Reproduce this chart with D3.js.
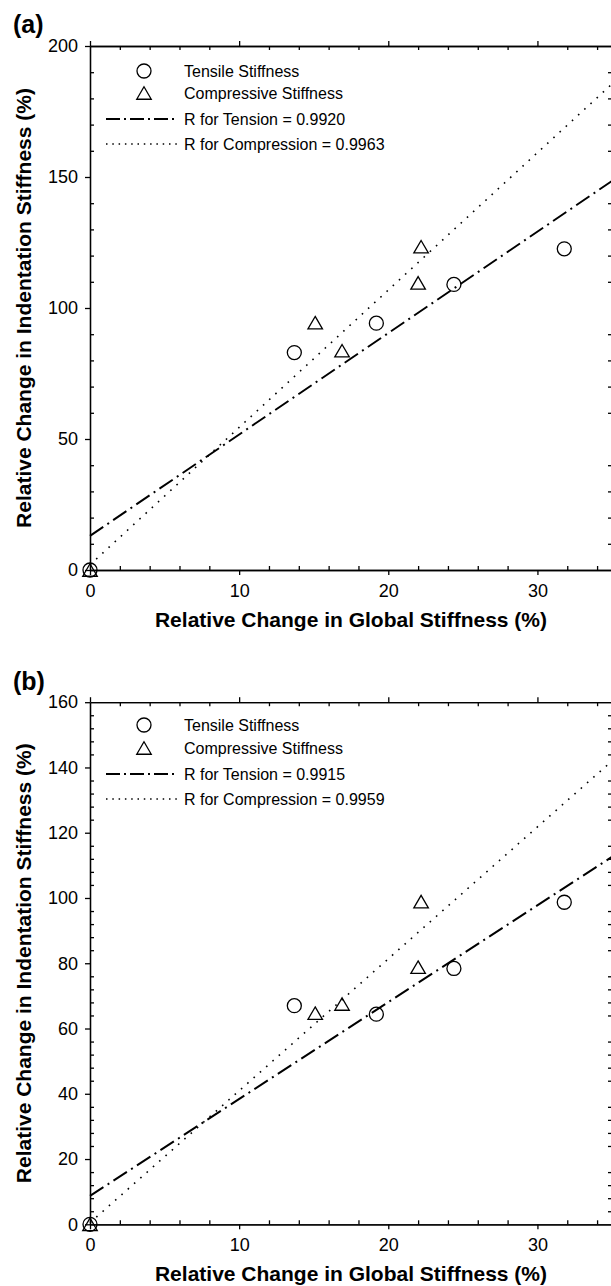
<!DOCTYPE html>
<html>
<head>
<meta charset="utf-8">
<script src="https://cdn.jsdelivr.net/npm/d3@7"></script>
<style>
  body { margin: 0; background: #fff; }
  svg { display: block; font-family: "Liberation Sans", Arial, sans-serif; }
</style>
</head>
<body>
<svg id="chart" width="611" height="1286"></svg>
<script>
// values
var xTicks = [0, 10, 20, 30];
var yTicksA = [0, 50, 100, 150, 200];
var yTicksB = [0, 20, 40, 60, 80, 100, 120, 140, 160];

var tensileX = [0, 13.7, 19.2, 24.4, 31.8];
var compressiveX = [0, 15.1, 16.9, 22.0, 22.2];

var tensileYA = [0, 83.0, 94.2, 109.0, 122.6];
var compressiveYA = [0, 94.4, 83.7, 109.6, 123.4];
var tensileYB = [0, 67.0, 64.4, 78.4, 98.7];
var compressiveYB = [0, 64.7, 67.5, 78.8, 98.9];

// fitted lines, end points [x, y]
var tensionFitA = [[0, 13.0], [35, 148.5]];
var compressionFitA = [[0, 2.0], [35, 185.5]];
var tensionFitB = [[0, 8.7], [35, 112.6]];
var compressionFitB = [[0, 0.5], [35, 142.0]];

var legendA = ['Tensile Stiffness', 'Compressive Stiffness', 'R for Tension = 0.9920', 'R for Compression = 0.9963'];
var legendB = ['Tensile Stiffness', 'Compressive Stiffness', 'R for Tension = 0.9915', 'R for Compression = 0.9959'];

var xTitle = 'Relative Change in Global Stiffness (%)';
var yTitle = 'Relative Change in Indentation Stiffness (%)';

var svg = d3.select('#chart');

// triangle with its box centred on the point, size = width
var triangleUp = {
	draw: function(ctx, size) {
		var w = size / 2, h = size * 0.43;
		ctx.moveTo(0, -h);
		ctx.lineTo(w, h);
		ctx.lineTo(-w, h);
		ctx.closePath();
	}
};

function drawPanel(p) {
	var x = d3.scaleLinear().domain([0, 35]).range([90, 612]);
	var y = d3.scaleLinear().domain([0, p.yMax]).range([p.bottom, p.top]);
	var g = svg.append('g');

	var xMinor = d3.range(0, 35.01, 2).filter(function(d) { return d % 10 !== 0; });
	var yMinor = d3.range(0, p.yMax + 0.01, p.yMinorStep).filter(function(d) { return d % p.yMajorStep !== 0; });

	function styleAxis(sel) {
		sel.selectAll('path, line').attr('stroke', '#000').attr('stroke-width', 1.3);
		sel.selectAll('text').attr('font-size', 18).attr('fill', '#000').attr('font-family', '"Liberation Sans", Arial, sans-serif');
	}

	// bottom
	g.append('g').attr('transform', 'translate(0,' + p.bottom + ')')
		.call(d3.axisBottom(x).tickValues(xTicks).tickSize(5).tickSizeOuter(0).tickPadding(9))
		.call(styleAxis);
	g.append('g').attr('transform', 'translate(0,' + p.bottom + ')')
		.call(d3.axisBottom(x).tickValues(xMinor).tickSize(-4).tickSizeOuter(0).tickFormat(''))
		.call(styleAxis);
	// top
	g.append('g').attr('transform', 'translate(0,' + p.top + ')')
		.call(d3.axisTop(x).tickValues(xTicks).tickSize(5).tickSizeOuter(0).tickFormat(''))
		.call(styleAxis);
	g.append('g').attr('transform', 'translate(0,' + p.top + ')')
		.call(d3.axisTop(x).tickValues(xMinor).tickSize(-4).tickSizeOuter(0).tickFormat(''))
		.call(styleAxis);
	// left
	g.append('g').attr('transform', 'translate(90,0)')
		.call(d3.axisLeft(y).tickValues(p.yTicks).tickSize(5).tickSizeOuter(0).tickPadding(7))
		.call(styleAxis);
	g.append('g').attr('transform', 'translate(90,0)')
		.call(d3.axisLeft(y).tickValues(yMinor).tickSize(-4).tickSizeOuter(0).tickFormat(''))
		.call(styleAxis);
	// right
	g.append('g').attr('transform', 'translate(612,0)')
		.call(d3.axisRight(y).tickValues(p.yTicks).tickSize(5).tickSizeOuter(0).tickFormat(''))
		.call(styleAxis);
	g.append('g').attr('transform', 'translate(612,0)')
		.call(d3.axisRight(y).tickValues(yMinor).tickSize(-4).tickSizeOuter(0).tickFormat(''))
		.call(styleAxis);

	// fit lines
	var line = d3.line().x(function(d) { return x(d[0]); }).y(function(d) { return y(d[1]); });
	g.append('path').datum(p.compressionFit).attr('d', line)
		.attr('fill', 'none').attr('stroke', '#000').attr('stroke-width', 1.6)
		.attr('stroke-dasharray', '1.6,6.8');
	g.append('path').datum(p.tensionFit).attr('d', line)
		.attr('fill', 'none').attr('stroke', '#000').attr('stroke-width', 2)
		.attr('stroke-dasharray', '16,5,2,5');

	// points
	var circle = d3.symbol().type(d3.symbolCircle).size(Math.PI * 49);
	var tri = d3.symbol().type(triangleUp).size(14.5);
	g.selectAll('.tens').data(p.tensileY).enter().append('path')
		.attr('d', circle)
		.attr('transform', function(d, i) { return 'translate(' + x(tensileX[i]) + ',' + y(d) + ')'; })
		.attr('fill', 'none').attr('stroke', '#000').attr('stroke-width', 1.3);
	g.selectAll('.comp').data(p.compressiveY).enter().append('path')
		.attr('d', tri)
		.attr('transform', function(d, i) { return 'translate(' + x(compressiveX[i]) + ',' + y(d) + ')'; })
		.attr('fill', 'none').attr('stroke', '#000').attr('stroke-width', 1.3);

	// legend
	var rows = p.legendRows;
	var lg = g.append('g');
	lg.append('path').attr('d', circle).attr('transform', 'translate(144,' + rows[0] + ')')
		.attr('fill', 'none').attr('stroke', '#000').attr('stroke-width', 1.3);
	lg.append('path').attr('d', tri).attr('transform', 'translate(144,' + rows[1] + ')')
		.attr('fill', 'none').attr('stroke', '#000').attr('stroke-width', 1.3);
	lg.append('line').attr('x1', 106).attr('x2', 176).attr('y1', rows[2]).attr('y2', rows[2])
		.attr('stroke', '#000').attr('stroke-width', 2).attr('stroke-dasharray', '14,4,2,4');
	lg.append('line').attr('x1', 106).attr('x2', 177).attr('y1', rows[3]).attr('y2', rows[3])
		.attr('stroke', '#000').attr('stroke-width', 1.5).attr('stroke-dasharray', '1.5,4.8');
	lg.selectAll('text').data(p.legend).enter().append('text')
		.attr('x', 184).attr('y', function(d, i) { return rows[i] + 5.8; })
		.attr('font-size', 16).text(function(d) { return d; });

	// titles
	g.append('text').attr('x', 351).attr('y', p.bottom + 57)
		.attr('text-anchor', 'middle').attr('font-size', 21).attr('font-weight', 'bold').text(xTitle);
	g.append('text').attr('transform', 'translate(31,' + ((p.top + p.bottom) / 2) + ') rotate(-90)')
		.attr('text-anchor', 'middle').attr('font-size', 21).attr('font-weight', 'bold').text(yTitle);
	g.append('text').attr('x', 13).attr('y', p.letterY)
		.attr('font-size', 25).attr('font-weight', 'bold').text(p.letter);
}

drawPanel({
	top: 46, bottom: 570, yMax: 200, yTicks: yTicksA, yMajorStep: 50, yMinorStep: 10,
	tensileY: tensileYA, compressiveY: compressiveYA,
	tensionFit: tensionFitA, compressionFit: compressionFitA,
	legend: legendA, legendRows: [71, 93, 119, 144], letter: '(a)', letterY: 33
});

drawPanel({
	top: 702.2, bottom: 1224.3, yMax: 160, yTicks: yTicksB, yMajorStep: 20, yMinorStep: 4,
	tensileY: tensileYB, compressiveY: compressiveYB,
	tensionFit: tensionFitB, compressionFit: compressionFitB,
	legend: legendB, legendRows: [725, 748, 774, 799], letter: '(b)', letterY: 690
});
</script>
</body>
</html>
